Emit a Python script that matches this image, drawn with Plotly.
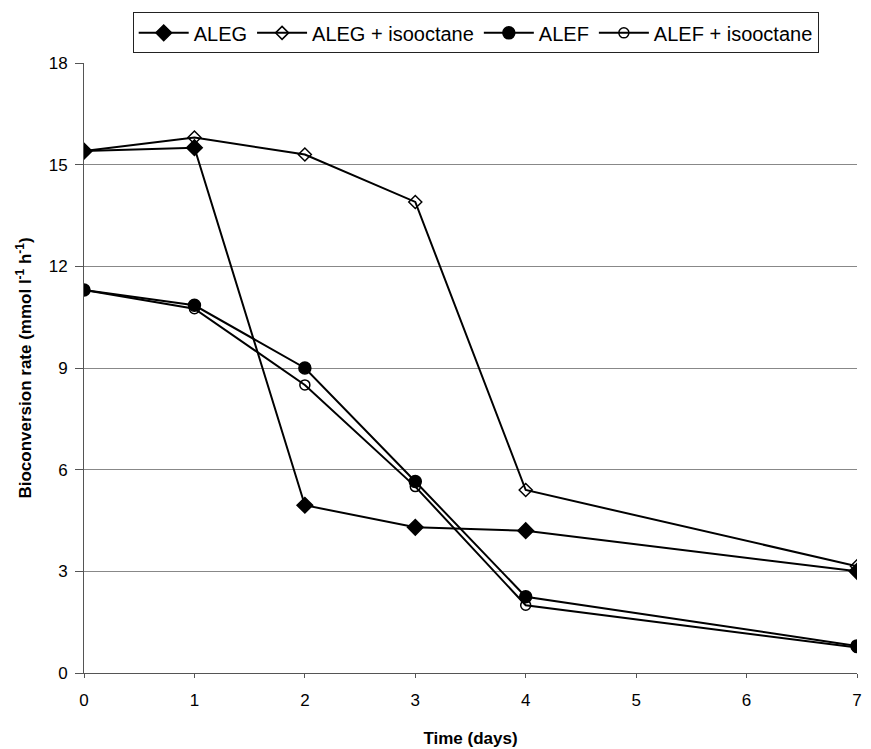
import plotly.graph_objects as go

days = [0, 1, 2, 3, 4, 7]
aleg = [15.4, 15.5, 4.95, 4.3, 4.2, 3.0]
aleg_iso = [15.4, 15.8, 15.3, 13.9, 5.4, 3.15]
alef = [11.3, 10.85, 9.0, 5.65, 2.25, 0.8]
alef_iso = [11.3, 10.75, 8.5, 5.5, 2.0, 0.75]
x_ticks = [0, 1, 2, 3, 4, 5, 6, 7]
y_ticks = [0, 3, 6, 9, 12, 15, 18]

series = [
    ("ALEG", aleg, "diamond", 12),
    ("ALEG + isooctane", aleg_iso, "diamond-open", 10),
    ("ALEF", alef, "circle", 12),
    ("ALEF + isooctane", alef_iso, "circle-open", 10),
]

fig = go.Figure()
for name, vals, sym, sz in series:
    fig.add_trace(go.Scatter(
        x=days, y=vals, name=name, mode="lines+markers",
        line=dict(color="black", width=2),
        marker=dict(symbol=sym, size=sz, color="black",
                    line=dict(color="black", width=1.5)),
    ))

fig.update_layout(
    width=871, height=749,
    margin=dict(l=84, r=14, t=59, b=76),
    paper_bgcolor="white", plot_bgcolor="white",
    font=dict(family="Liberation Sans, Arial, sans-serif", color="black", size=17),
    showlegend=True,
    legend=dict(
        orientation="h", x=0.063, y=1.083, xanchor="left", yanchor="top",
        bordercolor="#222", borderwidth=1, bgcolor="white",
        font=dict(size=20), itemwidth=50, tracegroupgap=0,
    ),
    xaxis=dict(
        range=[0, 7], tickvals=x_ticks, showgrid=False, zeroline=False,
        showline=True, linecolor="#555", linewidth=1, automargin=False,
        ticks="outside", ticklen=4, tickcolor="#555", ticklabelstandoff=8,
        title=dict(text="<b>Time (days)</b>", font=dict(size=17), standoff=22),
        tickfont=dict(size=17),
    ),
    yaxis=dict(
        range=[0, 18], tickvals=y_ticks, showgrid=True, gridcolor="#888",
        gridwidth=1, zeroline=False, automargin=False,
        showline=True, linecolor="#555", linewidth=1,
        ticks="outside", ticklen=8, tickcolor="#555", ticklabelstandoff=4,
        title=dict(text="<b>Bioconversion rate (mmol l<sup>-1</sup> h<sup>-1</sup>)</b>",
                   font=dict(size=17), standoff=12),
        tickfont=dict(size=17),
    ),
)

fig.write_html("out.html")
